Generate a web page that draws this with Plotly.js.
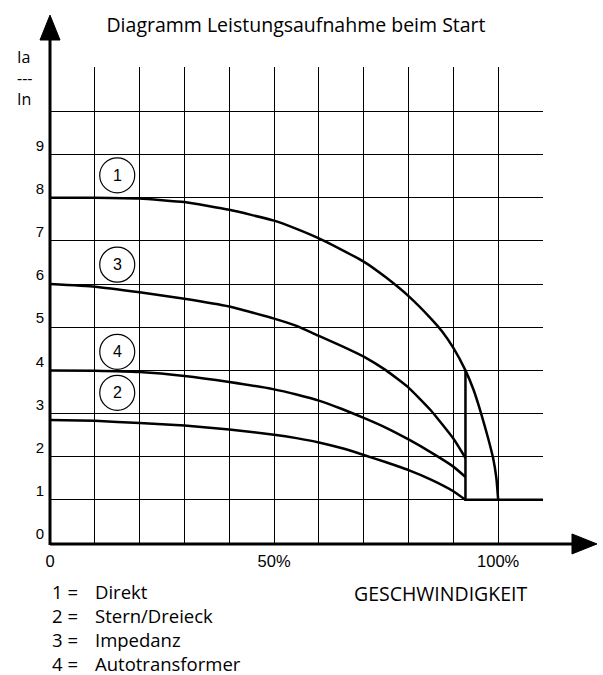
<!DOCTYPE html>
<html>
<head>
<meta charset="utf-8">
<script src="https://cdn.plot.ly/plotly-3.0.1.min.js"></script>
<style>html,body{margin:0;padding:0;background:#fff;}#chart{width:603px;height:675px;}</style>
</head>
<body>
<div id="chart"></div>
<script>
// Speed (% of rated) sample positions and Ia/In values for each starting method
const speed1 = [0, 10, 20, 30, 40, 50, 55, 60, 65, 70, 75, 80, 85, 87.5, 90, 92.7, 94.5, 96.2, 97.7, 98.9, 99.6, 100];
const direkt = [8.0, 8.0, 7.98, 7.9, 7.72, 7.47, 7.28, 7.06, 6.8, 6.52, 6.15, 5.72, 5.2, 4.9, 4.52, 4.0, 3.55, 3.0, 2.45, 1.95, 1.5, 1.0];

const speedR = [0, 10, 20, 30, 40, 50, 55, 60, 65, 70, 75, 80, 85, 90, 92.7];
const impedanz = [6.0, 5.94, 5.81, 5.66, 5.48, 5.2, 5.03, 4.8, 4.57, 4.32, 4.0, 3.6, 3.07, 2.42, 1.97];
const autotrafo = [4.0, 3.99, 3.96, 3.87, 3.73, 3.56, 3.44, 3.3, 3.11, 2.9, 2.67, 2.4, 2.1, 1.77, 1.53];
const sternDreieck = [2.85, 2.83, 2.78, 2.72, 2.63, 2.51, 2.43, 2.33, 2.2, 2.04, 1.87, 1.69, 1.47, 1.2, 1.0];

// switch-over line and rated operating line
const switchX = [110, 92.7, 92.7];
const switchY = [1, 1, 4.0];

// circled curve numbers: number, x, y
const markNums = ['1', '3', '4', '2'];
const markX = [15, 15, 15, 15];
const markY = [8.52, 6.45, 4.43, 3.48];

// tick labels
const xTickVals = [0, 10, 20, 30, 40, 50, 60, 70, 80, 90, 100];
const xTickText = ['0', '', '', '', '', '50%', '', '', '', '', '100%'];
const yTickVals = [0, 1, 2, 3, 4, 5, 6, 7, 8, 9, 10];
const yTickText = ['0', '1', '2', '3', '4', '5', '6', '7', '8', '9', ''];

// legend texts
const legendNums = ['1', '2', '3', '4'];
const legendNames = ['Direkt', 'Stern/Dreieck', 'Impedanz', 'Autotransformer'];

const lineStyle = {color: '#000', width: 2.5, shape: 'spline', smoothing: 0.4};
const traces = [
  {x: speed1, y: direkt, mode: 'lines', line: lineStyle},
  {x: speedR, y: impedanz, mode: 'lines', line: lineStyle},
  {x: speedR, y: autotrafo, mode: 'lines', line: lineStyle},
  {x: speedR, y: sternDreieck, mode: 'lines', line: lineStyle},
  {x: switchX, y: switchY, mode: 'lines', line: {color: '#000', width: 2.5}}
];

const sans = '"Open Sans", "Noto Sans", sans-serif';
const arial = '"Liberation Sans", Arial, sans-serif';

const shapes = [
  // y axis with arrow
  {type: 'line', xref: 'paper', yref: 'paper', x0: 0, x1: 0, y0: -0.004, y1: 1.06, line: {color: '#000', width: 3}},
  {type: 'path', xref: 'paper', yref: 'paper', path: 'M -0.0203 1.0567 L 0.0203 1.0567 L 0 1.109 Z', fillcolor: '#000', line: {color: '#000', width: 1}},
  // x axis with arrow
  {type: 'line', xref: 'paper', yref: 'paper', x0: 0, x1: 1.06, y0: -0.002, y1: -0.002, line: {color: '#000', width: 3}},
  {type: 'path', xref: 'paper', yref: 'paper', path: 'M 1.0588 0.019 L 1.0588 -0.023 L 1.1095 -0.002 Z', fillcolor: '#000', line: {color: '#000', width: 1}}
];
markNums.forEach((n, i) => {
  shapes.push({type: 'circle', xref: 'x', yref: 'y', xsizemode: 'pixel', ysizemode: 'pixel',
    xanchor: markX[i], yanchor: markY[i], x0: -17.5, x1: 17.5, y0: -17.5, y1: 17.5,
    line: {color: '#000', width: 1.2}});
});

const annotations = [];
markNums.forEach((n, i) => {
  annotations.push({x: markX[i], y: markY[i], xref: 'x', yref: 'y', text: n, showarrow: false,
    font: {family: arial, size: 16, color: '#000'}});
});
annotations.push({xref: 'paper', yref: 'paper', x: -0.07, y: 0.976, xanchor: 'left', yanchor: 'middle', align: 'left',
  text: 'Ia<br>---<br>In', showarrow: false, font: {family: sans, size: 16, color: '#000'}});
annotations.push({xref: 'paper', yref: 'paper', x: 0.793, y: -0.107, xanchor: 'center', yanchor: 'middle', text: 'GESCHWINDIGKEIT', showarrow: false, font: {family: sans, size: 19.5, color: '#000'}});
annotations.push({xref: 'paper', yref: 'paper', x: 0.0, y: -0.1775, xanchor: 'left', yanchor: 'middle', align: 'left',
  text: legendNums.map(n => n + ' =').join('<br>'), showarrow: false, font: {family: sans, size: 18.5, color: '#000'}});
annotations.push({xref: 'paper', yref: 'paper', x: 0.0878, y: -0.1775, xanchor: 'left', yanchor: 'middle', align: 'left',
  text: legendNames.join('<br>'), showarrow: false, font: {family: sans, size: 18.5, color: '#000'}});

const layout = {
  width: 603, height: 675,
  margin: {l: 50, r: 60, t: 67, b: 132, pad: 0},
  paper_bgcolor: '#fff', plot_bgcolor: '#fff',
  showlegend: false,
  title: {text: 'Diagramm Leistungsaufnahme beim Start', x: 0.499, xref: 'paper', y: 0.963, yref: 'container', xanchor: 'center', yanchor: 'middle',
    font: {family: sans, size: 19.5, color: '#000'}},
  xaxis: {range: [0, 110], tickvals: xTickVals, ticktext: xTickText, showgrid: true, gridcolor: '#000', gridwidth: 1,
    zeroline: false, showline: false, ticks: '', fixedrange: true, ticklabelstandoff: 6,
    tickfont: {family: arial, size: 16.5, color: '#000'}},
  yaxis: {range: [0, 11.03], tickvals: yTickVals, ticktext: yTickText, showgrid: true, gridcolor: '#000', gridwidth: 1,
    zeroline: false, showline: false, ticks: '', fixedrange: true, ticklabelshift: -9, ticklabelstandoff: 5,
    tickfont: {family: arial, size: 15, color: '#000'}},
  shapes: shapes,
  annotations: annotations
};

Plotly.newPlot('chart', traces, layout, {displayModeBar: false, staticPlot: true});
</script>
</body>
</html>
